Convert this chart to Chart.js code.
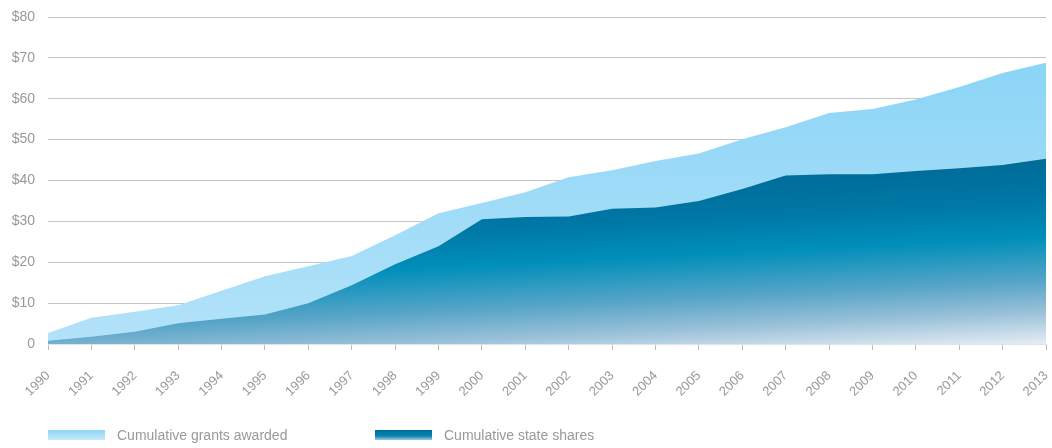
<!DOCTYPE html>
<html>
<head>
<meta charset="utf-8">
<script src="https://cdn.jsdelivr.net/npm/chart.js@4"></script>
<style>
  body { margin: 0; background: #fff; font-family: "Liberation Sans", Arial, sans-serif; }
  #wrap { position: relative; width: 1052px; height: 448px; }
  .legend { position: absolute; top: 427px; left: 0; width: 1052px; height: 18px; font-size: 14px; color: #999; }
  .legend .item { position: absolute; top: 0; display: flex; align-items: center; height: 16px; white-space: nowrap; }
  .legend .box { width: 57px; height: 10px; margin-right: 12px; }
</style>
</head>
<body>
<div id="wrap">
  <canvas id="grantsChart"></canvas>
  <div class="legend">
    <div class="item" style="left:48px"><span class="box" style="background:linear-gradient(#8cd6f6,#c6eafa)"></span>Cumulative grants awarded</div>
    <div class="item" style="left:375px"><span class="box" style="background:linear-gradient(#006c99,#0085b2 60%,#a9c9dc)"></span>Cumulative state shares</div>
  </div>
</div>
<script>
const years = ['1990', '1991', '1992', '1993', '1994', '1995', '1996', '1997', '1998', '1999', '2000', '2001',
  '2002', '2003', '2004', '2005', '2006', '2007', '2008', '2009', '2010', '2011', '2012', '2013'];

// billions of dollars
const grantsAwarded = [2.7, 6.4, 7.9, 9.5, 13.0, 16.6, 19.0, 21.5, 26.6, 32.0, 34.5, 37.1,
  40.8, 42.5, 44.8, 46.6, 50.1, 53.0, 56.5, 57.5, 59.8, 62.9, 66.3, 68.8];
const stateShares = [0.8, 1.8, 3.0, 5.1, 6.2, 7.2, 10.0, 14.4, 19.5, 23.9, 30.5, 31.1,
  31.2, 33.1, 33.4, 35.0, 37.9, 41.2, 41.5, 41.5, 42.3, 43.0, 43.8, 45.3];

const yTicks = [0, 10, 20, 30, 40, 50, 60, 70, 80];

function grantsFill(context) {
  const chart = context.chart;
  const area = chart.chartArea;
  if (!area) return '#a0dcf7';
  const y = chart.scales.y;
  const g = chart.ctx.createLinearGradient(0, y.getPixelForValue(68), 0, y.getPixelForValue(0));
  g.addColorStop(0, '#8cd5f6');
  g.addColorStop(1, '#b3e2f9');
  return g;
}

// gradient tilted a little, so the bottom right fades out more than the bottom left
function sharesFill(context) {
  const chart = context.chart;
  const area = chart.chartArea;
  if (!area) return '#0088b5';
  const y = chart.scales.y;
  const x0 = area.right;
  const y0 = y.getPixelForValue(47);
  const y1 = y.getPixelForValue(-1.5);
  const len = y1 - y0;
  const g = chart.ctx.createLinearGradient(x0, y0, x0 + 0.05 * len, y1);
  g.addColorStop(0, '#006896');
  g.addColorStop(0.05, '#006c99');
  g.addColorStop(0.25, '#0078a6');
  g.addColorStop(0.43, '#008fba');
  g.addColorStop(0.65, '#58a5c8');
  g.addColorStop(0.8, '#98c0d8');
  g.addColorStop(0.97, '#e6eef5');
  g.addColorStop(1, '#eef3f8');
  return g;
}

const ctx = document.getElementById('grantsChart').getContext('2d');

const chart = new Chart(ctx, {
  type: 'line',
  data: {
    labels: years,
    datasets: [{
      label: 'Cumulative grants awarded',
      data: grantsAwarded,
      backgroundColor: grantsFill,
      borderWidth: 0,
      pointRadius: 0,
      fill: 'origin',
      order: 2
    }, {
      label: 'Cumulative state shares',
      data: stateShares,
      backgroundColor: sharesFill,
      borderWidth: 0,
      pointRadius: 0,
      fill: 'origin',
      order: 1
    }]
  },
  options: {
    responsive: true,
    maintainAspectRatio: false,
    animation: false,
    layout: {
      padding: { top: 17, right: 6, left: 0, bottom: 0 }
    },
    plugins: {
      legend: { display: false },
      tooltip: { enabled: false }
    },
    scales: {
      x: {
        offset: false,
        grid: {
          drawOnChartArea: false,
          drawTicks: true,
          tickLength: 6,
          color: '#bdbdbd'
        },
        border: { display: true, color: '#e2e2e2' },
        ticks: {
          minRotation: 45,
          maxRotation: 45,
          autoSkip: false,
          padding: 18,
          color: '#999',
          font: { family: 'Liberation Sans', size: 13 }
        },
        afterFit: (scale) => {
          scale.height = 104;
          scale.paddingLeft = 0;
          scale.paddingRight = 0;
        }
      },
      y: {
        min: 0,
        max: 80,
        afterBuildTicks: (scale) => { scale.ticks = yTicks.map(v => ({ value: v })); },
        grid: {
          drawTicks: false,
          color: '#c4c4c4',
          lineWidth: 1
        },
        border: { display: false },
        ticks: {
          padding: 13,
          color: '#999',
          font: { family: 'Liberation Sans', size: 14 },
          callback: (v) => v === 0 ? '0' : '$' + v
        },
        afterFit: (scale) => {
          scale.width = 48;
          scale.paddingTop = 0;
          scale.paddingBottom = 0;
        }
      }
    }
  }
});
</script>
</body>
</html>
